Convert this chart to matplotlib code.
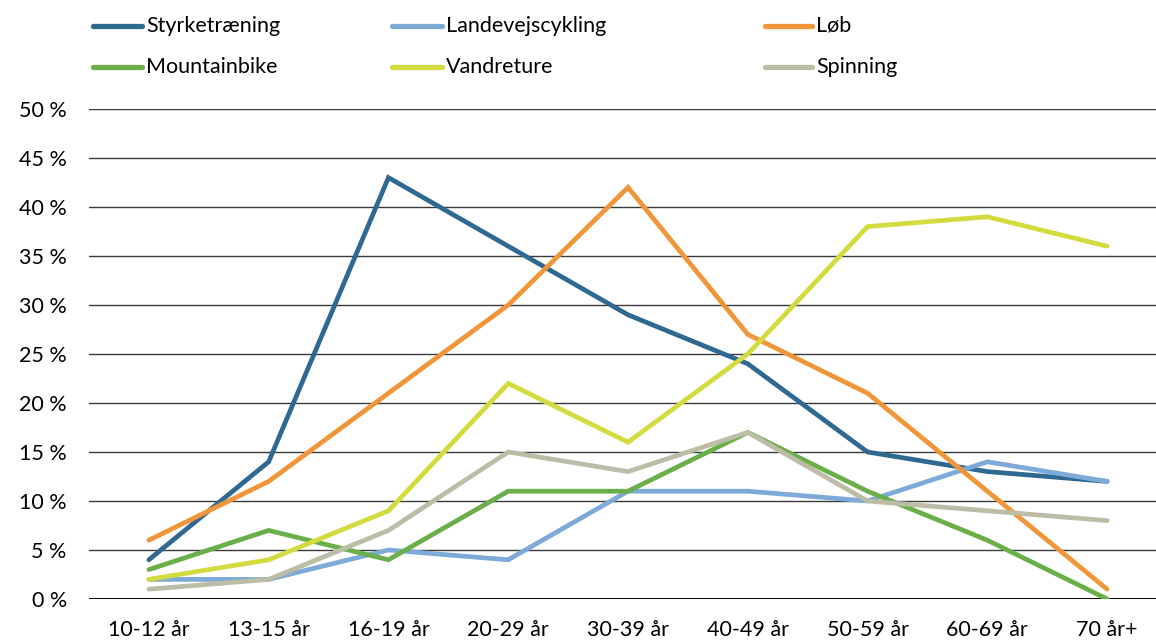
import matplotlib
matplotlib.use("Agg")
import matplotlib.pyplot as plt
from matplotlib.lines import Line2D

plt.rcParams['font.family'] = ['Lato', 'DejaVu Sans']

categories = ["10-12 år", "13-15 år", "16-19 år", "20-29 år", "30-39 år",
              "40-49 år", "50-59 år", "60-69 år", "70 år+"]
series_names = ["Styrketræning", "Landevejscykling", "Løb",
                "Mountainbike", "Vandreture", "Spinning"]
styrketraening = [4, 14, 43, 36, 29, 24, 15, 13, 12]
landevejscykling = [2, 2, 5, 4, 11, 11, 10, 14, 12]
lob = [6, 12, 21, 30, 42, 27, 21, 11, 1]
mountainbike = [3, 7, 4, 11, 11, 17, 11, 6, 0]
vandreture = [2, 4, 9, 22, 16, 25, 38, 39, 36]
spinning = [1, 2, 7, 15, 13, 17, 10, 9, 8]
yticks = [0, 5, 10, 15, 20, 25, 30, 35, 40, 45, 50]
ytick_labels = [f"{v} %" for v in yticks]

colors = ["#2F6891", "#7DAAD6", "#F19539", "#6BAF4B", "#D3DB3E", "#BBBDA6"]
data = [styrketraening, landevejscykling, lob, mountainbike, vandreture, spinning]

W, H = 1156, 644
fig = plt.figure(figsize=(W / 100, H / 100), dpi=100)
ax = fig.add_axes([89 / W, 1 - 599 / H, (1167 - 89) / W, (599 - 109) / H])

x = list(range(len(categories)))
for vals, c in zip(data, colors):
    ax.plot(x, vals, color=c, lw=3.4, solid_capstyle='round',
            solid_joinstyle='miter', zorder=3)

ax.set_xlim(-0.5, len(categories) - 0.5)
ax.set_ylim(0, 50)
ax.set_yticks(yticks)
ax.set_yticklabels(ytick_labels)
ax.set_xticks(x)
ax.set_xticklabels(categories)
ax.tick_params(axis='both', length=0, labelsize=15.5, colors='black')
ax.tick_params(axis='y', pad=16)
ax.tick_params(axis='x', pad=15)
for sp in ax.spines.values():
    sp.set_visible(False)
for v in yticks:
    ax.axhline(v, color='#3a3a3a' if v else '#000000', lw=1.0 if v else 1.4, zorder=1)

# Manual legend (Excel-style)
col_x = [(93, 142, 146), (392, 442, 446), (765, 812, 816)]
row_y = [26, 67]
for i, (name, c) in enumerate(zip(series_names, colors)):
    r, k = divmod(i, 3)
    x0, x1, tx = col_x[k]
    y = 1 - row_y[r] / H
    fig.add_artist(Line2D([x0 / W, x1 / W], [y, y], color=c, lw=3.8,
                          solid_capstyle='round', transform=fig.transFigure))
    fig.text(tx / W, y, name, fontsize=15.5, va='center', ha='left')

fig.savefig("out.png", dpi=100)
